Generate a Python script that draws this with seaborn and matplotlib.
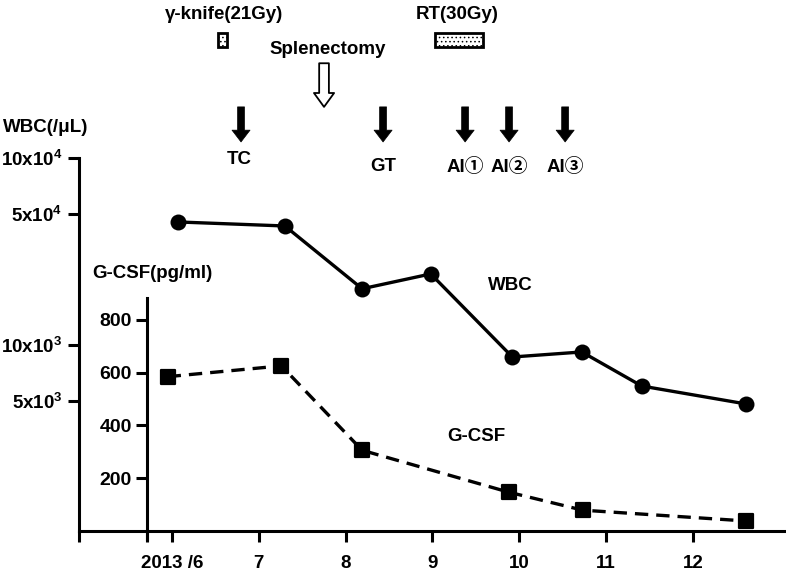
import matplotlib
matplotlib.use("Agg")
import matplotlib.pyplot as plt
import seaborn as sns
from matplotlib.markers import MarkerStyle
from matplotlib.patches import Rectangle
from matplotlib.ticker import NullLocator

# data (x = month of 2013, fractional)
wbc_month = [6.07, 7.30, 8.19, 8.98, 9.92, 10.72, 11.41, 12.61]
wbc_count = [45400, 43200, 19900, 23900, 8570, 9120, 5990, 4800]
gcsf_month = [5.95, 7.26, 8.19, 9.88, 10.73, 12.61]
gcsf_level = [585, 626, 306, 147, 79, 38]

month_ticks = [6, 7, 8, 9, 10, 11, 12]
month_labels = ["2013 /6", "7", "8", "9", "10", "11", "12"]
wbc_ticks = [5e3, 1e4, 5e4, 1e5]
wbc_labels = [r"$\mathbf{5x10^3}$", r"$\mathbf{10x10^3}$", r"$\mathbf{5x10^4}$", r"$\mathbf{10x10^4}$"]
gcsf_ticks = [200, 400, 600, 800]

# treatments (filled arrows) and splenectomy (open arrow)
drug_names = ["TC", "GT", "AI\u2460", "AI\u2461", "AI\u2462"]
drug_month = [6.795, 8.431, 9.376, 9.882, 10.528]
splenectomy_month = 7.751
# radiation periods
rad_names = ["\u03b3-knife(21Gy)", "RT(30Gy)"]
rad_start = [6.53, 9.03]
rad_end = [6.634, 9.583]

sns.set_theme(style="ticks")
plt.rcParams["font.family"] = ["Liberation Sans", "Noto Sans CJK JP", "DejaVu Sans"]
plt.rcParams["font.weight"] = "bold"
plt.rcParams["mathtext.fontset"] = "custom"
plt.rcParams["mathtext.rm"] = "Liberation Sans"
plt.rcParams["mathtext.bf"] = "Liberation Sans:bold"
plt.rcParams["text.color"] = "black"
plt.rcParams["xtick.color"] = "black"
plt.rcParams["ytick.color"] = "black"
plt.rcParams["xtick.labelcolor"] = "black"
plt.rcParams["ytick.labelcolor"] = "black"
plt.rcParams["hatch.linewidth"] = 0.6

FS = 13.5
W, H = 786, 577
fig = plt.figure(figsize=(W / 100, H / 100), dpi=100)
rect = [79 / W, 46 / H, 706 / W, 373 / H]
ax = fig.add_axes(rect)
ax2 = fig.add_axes(rect, sharex=ax)
ax2.patch.set_visible(False)

x_left, x_right = 4.929, 13.06
inner_x = 5.712
ax.set_xlim(x_left, x_right)

# WBC, log axis
ax.set_yscale("log")
sns.lineplot(x=wbc_month, y=wbc_count, ax=ax, color="black", lw=2.4,
             marker="o", markersize=11.5, markeredgewidth=0)
ax.set_ylim(1e3, 1e5)
ax.set_yticks(wbc_ticks)
ax.set_yticklabels(wbc_labels)
ax.yaxis.set_minor_locator(NullLocator())
ax.set_xticks(month_ticks)
ax.set_xticklabels(month_labels)
ax.set_xticks([x_left, inner_x], minor=True)
ax.tick_params(axis="x", which="both", length=8, width=2.2, pad=9, labelsize=FS)
ax.tick_params(axis="y", length=8, width=2.2, pad=4, labelsize=FS)
for side in ["top", "right"]:
    ax.spines[side].set_visible(False)
for side in ["left", "bottom"]:
    ax.spines[side].set_linewidth(2.2)
    ax.spines[side].set_color("black")

# G-CSF, linear inner axis
sq = MarkerStyle("s", joinstyle="round")
sns.lineplot(x=gcsf_month, y=gcsf_level, ax=ax2, color="black", lw=2.4,
             linestyle=(0, (4, 2.4)), marker=sq, markersize=9.5,
             markeredgewidth=1.6, markeredgecolor="black")
ax2.set_ylim(0, 1414)
ax2.set_yticks(gcsf_ticks)
ax2.tick_params(axis="y", length=8, width=2.2, pad=3, labelsize=FS + 0.5)
ax2.xaxis.set_visible(False)
for side in ["top", "right", "bottom"]:
    ax2.spines[side].set_visible(False)
ax2.spines["left"].set_position(("data", inner_x))
ax2.spines["left"].set_bounds(-30, 883)
ax2.spines["left"].set_linewidth(2.2)
ax2.spines["left"].set_color("black")
ax2.set_xlabel("")
ax2.set_ylabel("")
ax.set_ylabel("")

for t in ax.get_xticklabels() + ax.get_yticklabels() + ax2.get_yticklabels():
    t.set_fontweight("bold")

# axis titles and series labels
fig.text(3 / W, 1 - 127 / H, "WBC(/\u03bcL)", fontsize=FS, fontweight="bold", ha="left", va="center")
fig.text(92 / W, 1 - 274 / H, "G-CSF(pg/ml)", fontsize=FS, fontweight="bold", ha="left", va="center")
ax.text(9.894, 20600, "WBC", fontsize=FS, fontweight="bold", ha="center", va="center")
ax2.text(9.50, 360, "G-CSF", fontsize=FS, fontweight="bold", ha="center", va="center")

# event annotations above the plot
tr = ax.get_xaxis_transform()
for name, m in zip(drug_names, drug_month):
    ax.annotate("", xy=(m, 1.043), xytext=(m, 1.137), xycoords=tr, textcoords=tr,
                annotation_clip=False,
                arrowprops=dict(arrowstyle="simple,head_length=0.85,head_width=1.3,tail_width=0.5",
                                fc="black", ec="black", lw=0.5, shrinkA=0, shrinkB=0,
                                mutation_scale=10))
    y_lab = 0.995 if name == "TC" else 0.976
    ax.text(m - (0.02 if name == "TC" else 0), y_lab, name, transform=tr, fontsize=FS,
            fontweight="bold", ha="center", va="center", clip_on=False)

ax.annotate("", xy=(splenectomy_month, 1.137), xytext=(splenectomy_month, 1.254),
            xycoords=tr, textcoords=tr, annotation_clip=False,
            arrowprops=dict(arrowstyle="simple,head_length=1.0,head_width=1.45,tail_width=0.7",
                            fc="white", ec="black", lw=1.3, shrinkA=0, shrinkB=0,
                            mutation_scale=10))
ax.text(splenectomy_month + 0.04, 1.29, "Splenectomy", transform=tr, fontsize=FS,
        fontweight="bold", ha="center", va="center", clip_on=False)

for name, s, e in zip(rad_names, rad_start, rad_end):
    ax.add_patch(Rectangle((s, 1.298), e - s, 0.037, transform=tr, clip_on=False,
                           facecolor="white", edgecolor="black", lw=2, hatch="...."))
    ax.text((s + e) / 2 + (0.02 if e - s < 0.2 else -0.02), 1.386, name, transform=tr,
            fontsize=FS, fontweight="bold", ha="center", va="center", clip_on=False)

fig.savefig("out.png", dpi=100)
